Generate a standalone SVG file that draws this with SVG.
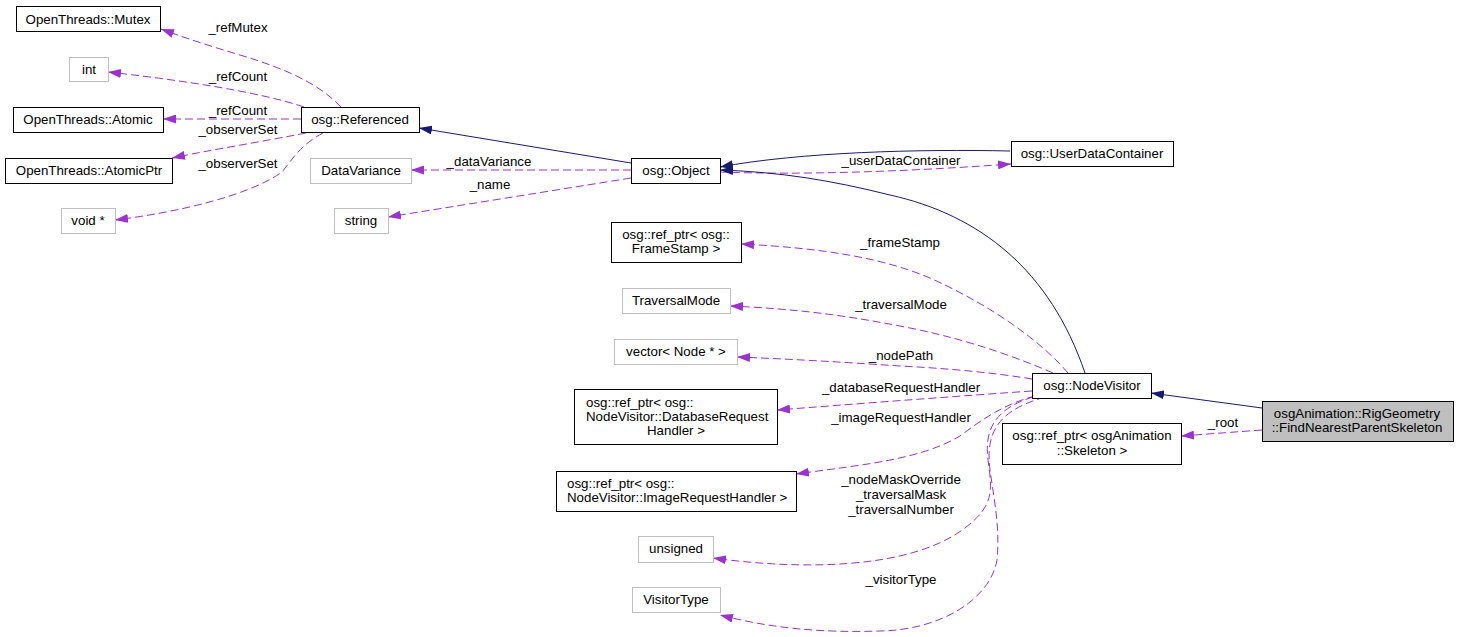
<svg xmlns="http://www.w3.org/2000/svg" width="1459" height="637" viewBox="0 0 1459 637">
<style>
text{font-family:"Liberation Sans",Arial,sans-serif;font-size:13.3px;fill:#000}
.n rect{fill:#fff;stroke:#000;stroke-width:1}
.g rect{fill:#fff;stroke:#bfbfbf;stroke-width:1}
.c{text-anchor:middle}
.u{fill:none;stroke:#9a32cd;stroke-width:1;stroke-dasharray:8,4}
.i{fill:none;stroke:#191970;stroke-width:1}
</style>
<defs>
<marker id="ap" markerUnits="userSpaceOnUse" markerWidth="13" markerHeight="9" viewBox="0 0 13 9" refX="13" refY="4.5" orient="auto"><path d="M0,0 L13,4.5 L0,9 z" fill="#9a32cd"/></marker>
<marker id="an" markerUnits="userSpaceOnUse" markerWidth="13" markerHeight="9" viewBox="0 0 13 9" refX="13" refY="4.5" orient="auto"><path d="M0,0 L13,4.5 L0,9 z" fill="#191970"/></marker>
</defs>
<rect width="1459" height="637" fill="#fff"/>
<g id="connectors">
<path class="u" d="M341,107 C320,85 290,70 240,55 C210,46 185,38 161,29" marker-end="url(#ap)"/>
<path class="u" d="M304,107 C260,92 180,80 108,72" marker-end="url(#ap)"/>
<path class="u" d="M301,119 L163,119" marker-end="url(#ap)"/>
<path class="u" d="M306,133 C260,142 210,150 172,158" marker-end="url(#ap)"/>
<path class="u" d="M323,133 C300,145 292,160 282,172 C250,195 180,212 115,220" marker-end="url(#ap)"/>
<path class="i" d="M631,163 L419,128" marker-end="url(#an)"/>
<path class="u" d="M631,170 L411,170" marker-end="url(#ap)"/>
<path class="u" d="M631,178 L388,217" marker-end="url(#ap)"/>
<path class="i" d="M1010,151 C920,149 800,152 720,167" marker-end="url(#an)"/>
<path class="u" d="M720,172 C800,175 900,172 1011,164" marker-end="url(#ap)"/>
<path class="i" d="M1085,373 C1050,270 980,215 890,195 C830,180 780,172 720,170" marker-end="url(#an)"/>
<path class="u" d="M1068,373 C1040,340 990,305 930,278 C880,257 820,248 741,244" marker-end="url(#ap)"/>
<path class="u" d="M1053,373 C1000,350 950,336 910,328 C850,316 800,309 730,306" marker-end="url(#ap)"/>
<path class="u" d="M1032,379 C990,372 940,368 900,366 C840,362 790,359 737,357" marker-end="url(#ap)"/>
<path class="u" d="M1032,391 C960,396 880,402 777,410" marker-end="url(#ap)"/>
<path class="u" d="M1035,396 C1000,405 975,425 960,436 C920,460 860,465 796,474" marker-end="url(#ap)"/>
<path class="u" d="M1033,397 C990,410 985,435 988,460 C992,490 995,505 965,528 C910,570 800,570 713,558" marker-end="url(#ap)"/>
<path class="u" d="M1045,397 C1000,410 985,430 990,470 C995,505 1000,530 997,560 C990,600 940,630 880,631 C820,633 770,628 720,615" marker-end="url(#ap)"/>
<path class="i" d="M1262,408 L1151,393" marker-end="url(#an)"/>
<path class="u" d="M1262,430 L1181,436" marker-end="url(#ap)"/>
<text class="c" x="238" y="32">_refMutex</text>
<text class="c" x="238" y="81">_refCount</text>
<text class="c" x="238" y="115">_refCount</text>
<text class="c" x="238" y="134">_observerSet</text>
<text class="c" x="238" y="168">_observerSet</text>
<text class="c" x="489" y="166">_dataVariance</text>
<text class="c" x="490" y="189">_name</text>
<text class="c" x="901" y="165">_userDataContainer</text>
<text class="c" x="900" y="247">_frameStamp</text>
<text class="c" x="901" y="309">_traversalMode</text>
<text class="c" x="901" y="360">_nodePath</text>
<text class="c" x="901" y="392">_databaseRequestHandler</text>
<text class="c" x="901" y="422">_imageRequestHandler</text>
<text class="c" x="901" y="484">_nodeMaskOverride</text>
<text class="c" x="901" y="499">_traversalMask</text>
<text class="c" x="901" y="514">_traversalNumber</text>
<text class="c" x="901" y="584">_visitorType</text>
<text class="c" x="1223" y="427">_root</text>
</g>
<g id="mutex" class="n"><rect x="16.5" y="6.5" width="144" height="25"/><text class="c" x="88" y="23.5">OpenThreads::Mutex</text></g>
<g id="int" class="g"><rect x="69.5" y="57.5" width="39" height="24"/><text class="c" x="89" y="74">int</text></g>
<g id="atomic" class="n"><rect x="13.5" y="107.5" width="150" height="25"/><text class="c" x="88" y="124">OpenThreads::Atomic</text></g>
<g id="atomicptr" class="n"><rect x="5.5" y="158.5" width="167" height="25"/><text class="c" x="89" y="175">OpenThreads::AtomicPtr</text></g>
<g id="voidptr" class="g"><rect x="61.5" y="208.5" width="54" height="25"/><text class="c" x="88" y="225">void *</text></g>
<g id="referenced" class="n"><rect x="301.5" y="107.5" width="118" height="25"/><text class="c" x="360" y="124">osg::Referenced</text></g>
<g id="datavariance" class="g"><rect x="310.5" y="158.5" width="101" height="25"/><text class="c" x="361" y="175">DataVariance</text></g>
<g id="string" class="g"><rect x="334.5" y="208.5" width="54" height="25"/><text class="c" x="361" y="225">string</text></g>
<g id="object" class="n"><rect x="631.5" y="158.5" width="89" height="25"/><text class="c" x="676" y="175">osg::Object</text></g>
<g id="udc" class="n"><rect x="1011.5" y="141.5" width="162" height="25"/><text class="c" x="1092" y="158">osg::UserDataContainer</text></g>
<g id="framestamp" class="n"><rect x="611.5" y="222.5" width="130" height="40"/><text class="c" x="676" y="239">osg::ref_ptr&lt; osg::</text><text class="c" x="676" y="253">FrameStamp &gt;</text></g>
<g id="traversalmode" class="g"><rect x="622.5" y="288.5" width="108" height="25"/><text class="c" x="676" y="305">TraversalMode</text></g>
<g id="nodepath" class="g"><rect x="614.5" y="339.5" width="123" height="25"/><text class="c" x="676" y="356">vector&lt; Node * &gt;</text></g>
<g id="nodevisitor" class="n"><rect x="1032.5" y="373.5" width="119" height="25"/><text class="c" x="1092" y="390">osg::NodeVisitor</text></g>
<g id="dbhandler" class="n"><rect x="574.5" y="389.5" width="203" height="55"/><text x="586" y="407">osg::ref_ptr&lt; osg::</text><text x="586" y="421">NodeVisitor::DatabaseRequest</text><text class="c" x="676" y="435">Handler &gt;</text></g>
<g id="skeleton" class="n"><rect x="1002.5" y="423.5" width="179" height="41"/><text class="c" x="1092" y="440">osg::ref_ptr&lt; osgAnimation</text><text class="c" x="1092" y="455">::Skeleton &gt;</text></g>
<g id="fnps" class="n"><rect x="1262.5" y="401.5" width="191" height="40" style="fill:#bfbfbf"/><text class="c" x="1357" y="418">osgAnimation::RigGeometry</text><text class="c" x="1357" y="432">::FindNearestParentSkeleton</text></g>
<g id="imghandler" class="n"><rect x="556.5" y="471.5" width="240" height="40"/><text x="567" y="488">osg::ref_ptr&lt; osg::</text><text x="567" y="502">NodeVisitor::ImageRequestHandler &gt;</text></g>
<g id="unsigned" class="g"><rect x="638.5" y="536.5" width="75" height="26"/><text class="c" x="676" y="553">unsigned</text></g>
<g id="visitortype" class="g"><rect x="632.5" y="587.5" width="88" height="25"/><text class="c" x="676" y="604">VisitorType</text></g>
</svg>
